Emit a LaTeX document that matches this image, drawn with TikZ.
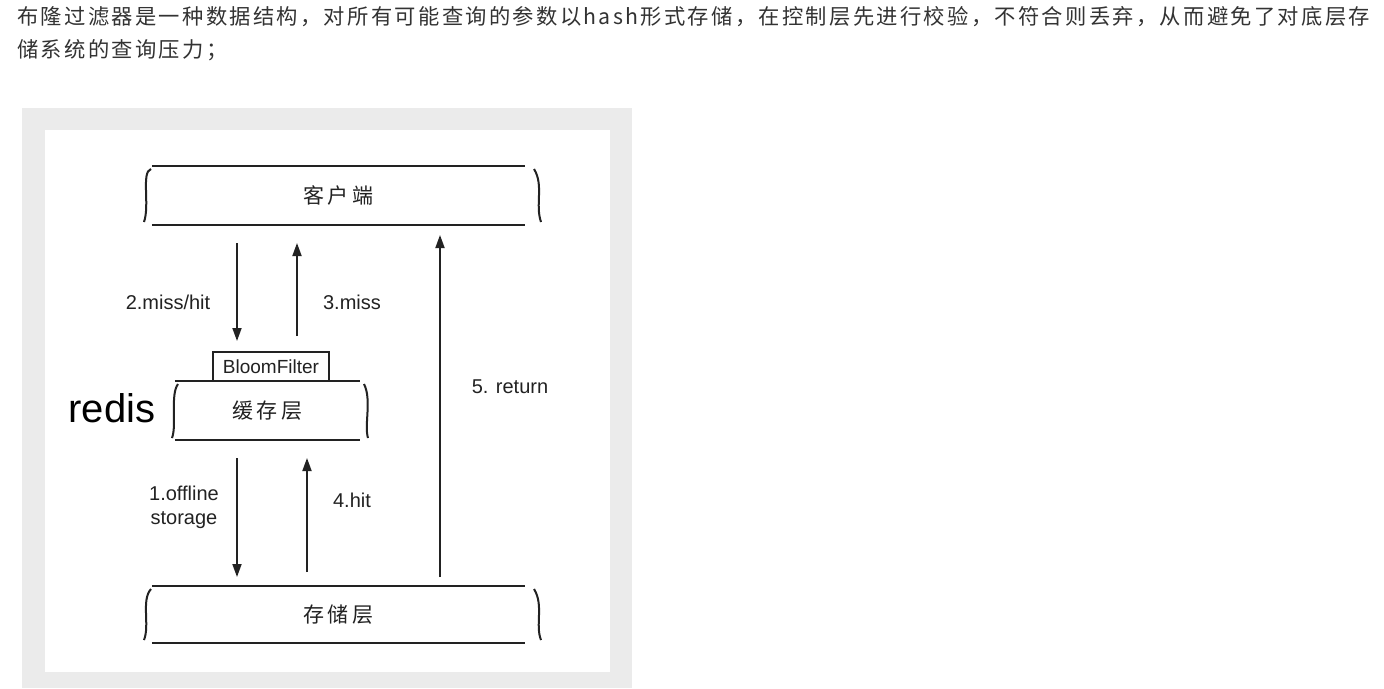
\documentclass[tikz,border=0pt]{standalone}
\usepackage{fontspec}
\setmainfont{Liberation Sans}
\newfontfamily\cjk{Noto Sans CJK SC}
\newfontfamily\cjkwide[LetterSpace=10.8]{Noto Sans CJK SC}
\usetikzlibrary{arrows.meta}
\definecolor{txt}{HTML}{333333}
\definecolor{ln}{HTML}{222222}
\tikzset{
  lbl/.style={font=\fontsize{20}{24}\selectfont, text=ln, align=center},
  ttl/.style={font=\cjk\fontsize{21}{23}\selectfont, text=ln},
  hdr/.style={anchor=west, font=\cjkwide\fontsize{21.3}{25}\selectfont, text=txt, inner sep=0pt},
  lyr/.style={inner sep=0pt},
  edge/.style={line width=2.2pt, draw=ln},
  br/.style={line width=2pt, draw=ln},
  arr/.style={line width=1.8pt, draw=ln, -{Triangle[length=13pt,width=9pt]}},
}
\begin{document}
\begin{tikzpicture}[x=1pt,y=-1pt]
\useasboundingbox (0,0) rectangle (1384,688);
\fill[white] (0,0) rectangle (1384,688);
% header
\node[hdr] (h1) at (17,17) {布隆过滤器是一种数据结构，对所有可能查询的参数以hash形式存储，在控制层先进行校验，不符合则丢弃，从而避免了对底层存};
\node[hdr] (h2) at (17,50) {储系统的查询压力；};
% frame
\fill[black!8] (22,108) rectangle (632,688);
\fill[white] (45,130) rectangle (610,672);
% client
\node[lyr, minimum width=373, minimum height=59, ttl] (cl) at (338.5,195.5) {客\,户\,端};
\draw[edge] (cl.north west) -- (cl.north east);
\draw[edge] (cl.south west) -- (cl.south east);
\draw[br] (151,169) .. controls (141,172) and (150,205) .. (144,222);
\draw[br] (534,169) .. controls (544,185) and (535,205) .. (541,222) ;
% cache
\node[lyr, minimum width=185, minimum height=59, ttl] (ca) at (267.5,410.5) {缓\,存\,层};
\draw[edge] (ca.north west) -- (ca.north east);
\draw[edge] (ca.south west) -- (ca.south east);
\draw[br] (178,384) .. controls (170,395) and (177,425) .. (172,438);
\draw[br] (364,384) .. controls (372,400) and (364,425) .. (368,438);
% bloom
\node[lyr, draw=ln, line width=1.8pt, minimum width=116, minimum height=29, font=\fontsize{19}{20}\selectfont, text=ln] (bf) at (271,366.5) {BloomFilter};
\node[font=\fontsize{40}{42}\selectfont, text=black, inner sep=0pt] (rd) at (112,408) {redis};
% storage
\node[lyr, minimum width=373, minimum height=57, ttl] (st) at (338.5,614.5) {存\,储\,层};
\draw[edge] (st.north west) -- (st.north east);
\draw[edge] (st.south west) -- (st.south east);
\draw[br] (151,589) .. controls (141,600) and (150,625) .. (144,640);
\draw[br] (534,589) .. controls (544,605) and (535,625) .. (541,640);
% arrows
\coordinate (a2s) at (237,243); \coordinate (a2e) at (237,341);
\coordinate (a3s) at (297,336); \coordinate (a3e) at (297,243);
\coordinate (a5s) at (440,577); \coordinate (a5e) at (440,235);
\coordinate (a1s) at (237,458); \coordinate (a1e) at (237,577);
\coordinate (a4s) at (307,572); \coordinate (a4e) at (307,458);
\draw[arr] (a2s) -- (a2e);
\draw[arr] (a3s) -- (a3e);
\draw[arr] (a5s) -- (a5e);
\draw[arr] (a1s) -- (a1e);
\draw[arr] (a4s) -- (a4e);
\node[lbl] (l2) at (168,302) {2.miss/hit};
\node[lbl] (l3) at (352,302) {3.miss};
\node[lbl] (l5) at (510,387) {5. return};
\node[lbl] (l1) at (184,507) {1.offline\\storage};
\node[lbl] (l4) at (352,500) {4.hit};
\end{tikzpicture}
\end{document}
